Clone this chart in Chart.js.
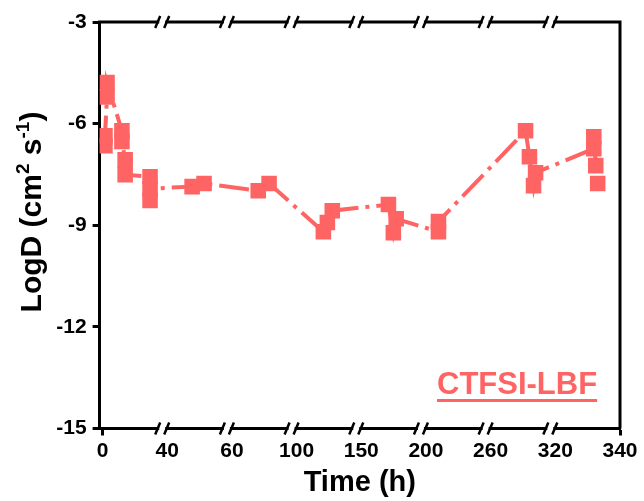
<!DOCTYPE html>
<html>
<head>
<meta charset="utf-8">
<script src="https://cdn.jsdelivr.net/npm/chart.js@4.4.0/dist/chart.umd.min.js"></script>
<style>
    html, body { margin: 0; padding: 0; background: #fff; }
    #caixa { width: 644px; height: 501px; }
</style>
</head>
<body>
<div id="caixa"><canvas id="grafico"></canvas></div>
<script>
// eixo x quebrado: cada trecho entre duas quebras ocupa a mesma largura
const rotulosTempo = ['0', '40', '60', '100', '150', '200', '260', '320', '340'];
const quebrasTempo = [0, 40, 60, 100, 150, 200, 260, 320, 340];
const rotulosLogD = [-15, -12, -9, -6, -3];

// valores (tempo em h, LogD)
const tempoHoras = [1.5, 1.5, 2.8, 2.8, 12, 12, 14, 14, 29.4, 29.4, 29.4,
    47.7, 51.4, 76.3, 83, 120.7, 123.8, 127.6, 171, 174.8, 177, 211.6, 211.6,
    292.4, 296, 299.8, 301.7, 331.9, 331.9, 332.5, 333.1];
const valoresLogD = [-6.65, -6.36, -5.21, -4.79, -6.21, -6.53, -7.07, -7.51, -7.57, -8.27, -7.92,
    -7.86, -7.77, -7.98, -7.77, -9.19, -8.92, -8.57, -8.39, -9.22, -8.81, -9.19, -8.89,
    -6.21, -6.98, -7.83, -7.45, -6.74, -6.39, -7.24, -7.77];

const corSerie = '#ff6464';
const fonte = '"Liberation Sans", Arial, sans-serif';

// converte o tempo para a posição no eixo com quebras
function posicaoNoEixo(t) {
    for (var i = 0; i < quebrasTempo.length - 1; i++) {
        if (t <= quebrasTempo[i + 1]) {
            return i + (t - quebrasTempo[i]) / (quebrasTempo[i + 1] - quebrasTempo[i]);
        }
    }
    return quebrasTempo.length - 1;
}

let pontos = [];
for (var i = 0; i < tempoHoras.length; i++) {
    pontos.push({ x: posicaoNoEixo(tempoHoras[i]), y: valoresLogD[i] });
}

// moldura, quebras, título do eixo y e legenda
const extras = {
    id: 'extras',
    afterDraw(chart) {
        const ctx = chart.ctx;
        const area = chart.chartArea;
        const xs = chart.scales.x;
        ctx.save();
        ctx.strokeStyle = '#000';
        ctx.lineWidth = 3;
        ctx.beginPath();
        ctx.moveTo(area.left - 1.5, area.top);
        ctx.lineTo(area.right + 1.5, area.top);
        ctx.moveTo(area.right, area.top);
        ctx.lineTo(area.right, area.bottom);
        ctx.stroke();

        for (var k = 1; k < rotulosTempo.length - 1; k++) {
            const px = xs.getPixelForValue(k) - 5;
            [area.top, area.bottom].forEach(function (py) {
                ctx.fillStyle = '#fff';
                ctx.fillRect(px - 3, py - 2.5, 6, 5);
                ctx.lineWidth = 2.5;
                ctx.beginPath();
                ctx.moveTo(px - 7, py + 6);
                ctx.lineTo(px - 2, py - 6);
                ctx.moveTo(px + 2, py + 6);
                ctx.lineTo(px + 7, py - 6);
                ctx.stroke();
            });
        }

        // título do eixo y com sobrescritos
        const partes = [
            { t: 'LogD (cm', s: 30, dy: 0 },
            { t: '2', s: 19, dy: -12 },
            { t: ' s', s: 30, dy: 0 },
            { t: '-1', s: 19, dy: -12 },
            { t: ')', s: 30, dy: 0 }
        ];
        ctx.fillStyle = '#000';
        ctx.textBaseline = 'alphabetic';
        ctx.textAlign = 'left';
        var total = 0;
        partes.forEach(function (p) {
            ctx.font = 'bold ' + p.s + 'px ' + fonte;
            p.w = ctx.measureText(p.t).width;
            total += p.w;
        });
        ctx.translate(41, 212);
        ctx.rotate(-Math.PI / 2);
        var cx = -total / 2;
        partes.forEach(function (p) {
            ctx.font = 'bold ' + p.s + 'px ' + fonte;
            ctx.fillText(p.t, cx, p.dy);
            cx += p.w;
        });
        ctx.restore();

        // legenda
        ctx.save();
        ctx.fillStyle = corSerie;
        ctx.font = 'bold 31px ' + fonte;
        ctx.textBaseline = 'alphabetic';
        ctx.fillText('CTFSI-LBF', 437, 394);
        const larg = ctx.measureText('CTFSI-LBF').width;
        ctx.fillRect(437, 399, larg, 3);
        ctx.restore();
    }
};

const configGrafico = {
    type: 'line',
    data: {
        datasets: [{
            label: 'CTFSI-LBF',
            data: pontos,
            borderColor: corSerie,
            backgroundColor: corSerie,
            borderWidth: 4,
            borderDash: [30, 7, 4, 7],
            pointStyle: 'rect',
            pointRadius: 11,
            pointBorderWidth: 0,
            tension: 0
        }]
    },
    plugins: [extras],
    options: {
        responsive: true,
        maintainAspectRatio: false,
        animation: false,
        layout: { padding: { top: 22, right: 24, left: 0, bottom: 0 } },
        plugins: { legend: { display: false }, tooltip: { enabled: false } },
        scales: {
            x: {
                type: 'linear',
                min: -0.045,
                max: rotulosTempo.length - 1,
                afterFit: function (scale) { scale.height = 72.5; },
                afterBuildTicks: function (scale) {
                    scale.ticks = rotulosTempo.map(function (r, i) { return { value: i }; });
                },
                border: { display: true, color: '#000', width: 3 },
                grid: {
                    drawOnChartArea: false,
                    drawTicks: true,
                    tickLength: 7,
                    tickWidth: 3,
                    color: function (c) {
                        return (c.index === 0 || c.index === rotulosTempo.length - 1) ? '#000' : 'rgba(0,0,0,0)';
                    }
                },
                ticks: {
                    autoSkip: false,
                    maxRotation: 0,
                    padding: 3,
                    color: '#000',
                    font: { family: fonte, size: 21, weight: 'bold' },
                    callback: function (v) { return rotulosTempo[Math.round(v)]; }
                },
                title: {
                    display: true,
                    text: 'Time (h)',
                    color: '#000',
                    font: { family: fonte, size: 29, weight: 'bold' },
                    padding: { top: 0, bottom: 1 }
                }
            },
            y: {
                min: -15,
                max: -3,
                afterFit: function (scale) { scale.width = 99.6; },
                afterBuildTicks: function (scale) {
                    scale.ticks = rotulosLogD.map(function (v) { return { value: v }; });
                },
                border: { display: true, color: '#000', width: 3 },
                grid: {
                    drawOnChartArea: false,
                    drawTicks: true,
                    tickLength: 7,
                    tickWidth: 3,
                    color: '#000'
                },
                ticks: {
                    padding: 6,
                    color: '#000',
                    font: { family: fonte, size: 21, weight: 'bold' }
                }
            }
        }
    }
};

let meuGrafico = new Chart(document.getElementById('grafico'), configGrafico);
</script>
</body>
</html>
